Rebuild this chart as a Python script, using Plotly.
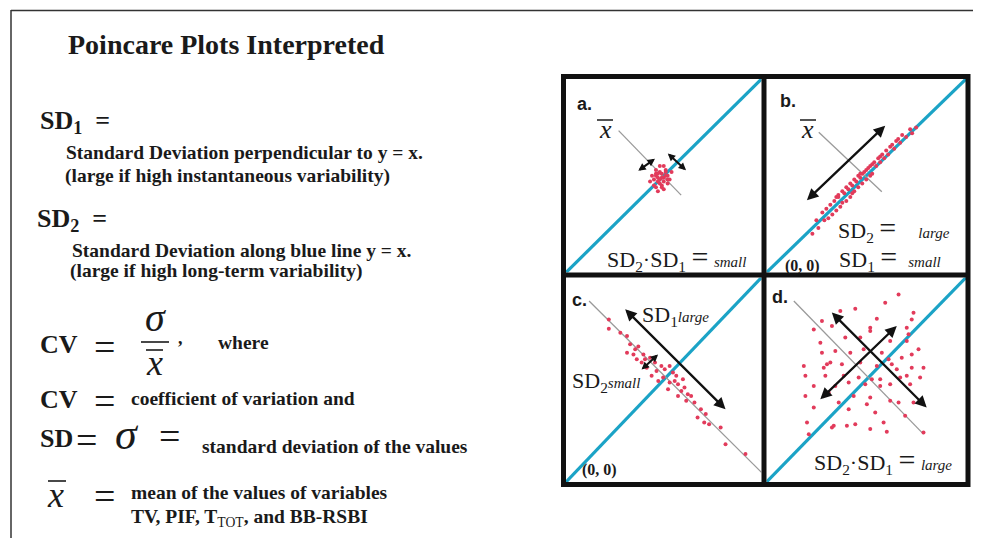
import plotly.graph_objects as go

W, H = 981, 538

# ---------------- data (panel units, 0..1, origin bottom-left) ----------------
identity_x = [0, 1]
identity_y = [0, 1]

# panel a: tight cluster around the mean
xa = [0.46, 0.48, 0.50, 0.47, 0.49, 0.51, 0.45, 0.48, 0.52, 0.46, 0.50, 0.47, 0.49, 0.44,
      0.53, 0.48, 0.51, 0.46, 0.50, 0.47, 0.49, 0.52, 0.45, 0.48, 0.50, 0.43, 0.47, 0.51,
      0.54, 0.49, 0.46, 0.52]
ya = [0.50, 0.52, 0.49, 0.47, 0.45, 0.53, 0.48, 0.55, 0.50, 0.44, 0.47, 0.51, 0.49, 0.50,
      0.48, 0.46, 0.52, 0.53, 0.43, 0.49, 0.51, 0.46, 0.45, 0.48, 0.55, 0.47, 0.42, 0.50,
      0.52, 0.44, 0.51, 0.48]

# panel b: elongated along y = x
xb = [0.23, 0.25, 0.26, 0.28, 0.29, 0.30, 0.31, 0.32, 0.33, 0.34, 0.35, 0.35, 0.36, 0.37,
      0.38, 0.38, 0.39, 0.40, 0.40, 0.41, 0.42, 0.42, 0.43, 0.44, 0.44, 0.45, 0.46, 0.46,
      0.47, 0.48, 0.48, 0.49, 0.50, 0.50, 0.51, 0.52, 0.53, 0.53, 0.54, 0.55, 0.56, 0.57,
      0.58, 0.59, 0.60, 0.61, 0.62, 0.64, 0.65, 0.67, 0.68, 0.70, 0.72, 0.75,
      0.36, 0.43, 0.47, 0.52, 0.57, 0.63, 0.66, 0.73]
yb = [0.20, 0.27, 0.23, 0.31, 0.27, 0.33, 0.28, 0.35, 0.30, 0.37, 0.32, 0.39, 0.39, 0.34,
      0.42, 0.36, 0.41, 0.44, 0.37, 0.43, 0.46, 0.39, 0.45, 0.48, 0.42, 0.47, 0.50, 0.44,
      0.49, 0.51, 0.46, 0.52, 0.53, 0.48, 0.54, 0.55, 0.56, 0.51, 0.57, 0.55, 0.59, 0.57,
      0.61, 0.59, 0.63, 0.61, 0.65, 0.64, 0.68, 0.67, 0.71, 0.70, 0.74, 0.75,
      0.40, 0.41, 0.51, 0.50, 0.60, 0.66, 0.69, 0.72]

# panel c: elongated perpendicular to y = x
xc = [0.219, 0.219, 0.278, 0.312, 0.328, 0.354, 0.370, 0.312, 0.345, 0.396, 0.362, 0.404,
      0.430, 0.455, 0.488, 0.413, 0.463, 0.505, 0.530, 0.547, 0.497, 0.556, 0.573, 0.530,
      0.606, 0.590, 0.623, 0.640, 0.573, 0.615, 0.657, 0.690, 0.673, 0.715, 0.732, 0.791,
      0.816, 0.918, 0.387, 0.438, 0.522, 0.564, 0.472, 0.598, 0.707]
yc = [0.795, 0.750, 0.730, 0.714, 0.673, 0.649, 0.662, 0.632, 0.624, 0.624, 0.600, 0.600,
      0.608, 0.584, 0.567, 0.559, 0.543, 0.551, 0.567, 0.535, 0.511, 0.494, 0.478, 0.486,
      0.462, 0.445, 0.429, 0.421, 0.421, 0.397, 0.389, 0.356, 0.315, 0.332, 0.283, 0.267,
      0.185, 0.137, 0.584, 0.519, 0.454, 0.519, 0.494, 0.502, 0.291]

# panel d: wide scattered cloud
xd = [0.662, 0.595, 0.445, 0.370, 0.278, 0.237, 0.328, 0.553, 0.737, 0.728, 0.520, 0.520,
      0.703, 0.712, 0.270, 0.395, 0.470, 0.620, 0.703, 0.762, 0.345, 0.420, 0.487, 0.578,
      0.612, 0.678, 0.728, 0.187, 0.303, 0.287, 0.320, 0.378, 0.470, 0.553, 0.628, 0.653,
      0.728, 0.787, 0.195, 0.295, 0.387, 0.462, 0.528, 0.570, 0.670, 0.703, 0.770, 0.237,
      0.345, 0.412, 0.495, 0.570, 0.620, 0.720, 0.195, 0.312, 0.437, 0.520, 0.620, 0.662,
      0.737, 0.237, 0.362, 0.412, 0.503, 0.545, 0.203, 0.328, 0.403, 0.445, 0.587, 0.695,
      0.212, 0.337, 0.520, 0.603, 0.787, 0.278]
yd = [0.917, 0.876, 0.847, 0.836, 0.787, 0.746, 0.763, 0.798, 0.828, 0.795, 0.754, 0.738,
      0.754, 0.722, 0.681, 0.706, 0.706, 0.689, 0.689, 0.649, 0.641, 0.632, 0.649, 0.632,
      0.600, 0.608, 0.624, 0.567, 0.576, 0.559, 0.584, 0.576, 0.584, 0.567, 0.576, 0.551,
      0.559, 0.559, 0.519, 0.519, 0.519, 0.511, 0.502, 0.502, 0.511, 0.519, 0.511, 0.470,
      0.470, 0.486, 0.478, 0.470, 0.478, 0.478, 0.421, 0.437, 0.421, 0.413, 0.397, 0.389,
      0.389, 0.364, 0.389, 0.356, 0.380, 0.340, 0.291, 0.267, 0.275, 0.283, 0.291, 0.324,
      0.234, 0.275, 0.259, 0.246, 0.242, 0.632]

# grey mean lines (perpendicular to y = x through the mean)
grey_a = ([0.269, 0.589], [0.733, 0.400])
grey_b = ([0.262, 0.578], [0.725, 0.417])
grey_c = ([0.118, 1.000], [0.885, 0.047])
grey_d = ([0.137, 0.787], [0.885, 0.234])

# double-headed arrows: (x0, y0, x1, y1)
arrows_a = [(0.362, 0.520, 0.455, 0.588), (0.513, 0.622, 0.614, 0.528)]
arrows_b = [(0.195, 0.366, 0.595, 0.759)]
arrows_c = [(0.295, 0.852, 0.816, 0.356), (0.379, 0.543, 0.471, 0.624)]
arrows_d = [(0.320, 0.836, 0.803, 0.364), (0.262, 0.397, 0.653, 0.763)]

# ---------------- layout helpers ----------------
# the page body adds an 8px margin, so compensate
OFF = 8

def px(x):
    return (x - OFF) / W

def py(y):
    return 1 - (y - OFF) / H

BLUE = "#1ba3c6"
RED = "#e23b5b"
GREY = "#9a9a9a"
INK = "#1a1a1a"
SERIF = "Liberation Serif"

# panel interiors in pixels: (x0, x1, ytop, ybottom)
panels = {
    "a": (566, 761.5, 79, 272.5),
    "b": (766.5, 966, 79, 272.5),
    "c": (566, 761.5, 277.5, 482),
    "d": (766.5, 966, 277.5, 482),
}
panel_data = {
    "a": (xa, ya, grey_a, arrows_a),
    "b": (xb, yb, grey_b, arrows_b),
    "c": (xc, yc, grey_c, arrows_c),
    "d": (xd, yd, grey_d, arrows_d),
}

fig = go.Figure()
annotations = []
layout_axes = {}

for i, key in enumerate(["a", "b", "c", "d"]):
    n = "" if i == 0 else str(i + 1)
    xr, yr = "x" + n, "y" + n
    x0, x1, yt, yb_ = panels[key]
    layout_axes["xaxis" + n] = dict(domain=[px(x0), px(x1)], range=[0, 1], visible=False,
                                    anchor=yr, fixedrange=True)
    layout_axes["yaxis" + n] = dict(domain=[py(yb_), py(yt)], range=[0, 1], visible=False,
                                    anchor=xr, fixedrange=True)
    sx, sy, grey, arrows = panel_data[key]
    fig.add_trace(go.Scatter(x=identity_x, y=identity_y, mode="lines", xaxis=xr, yaxis=yr,
                             line=dict(color=BLUE, width=3.2), hoverinfo="skip", showlegend=False,
                             cliponaxis=False))
    fig.add_trace(go.Scatter(x=grey[0], y=grey[1], mode="lines", xaxis=xr, yaxis=yr,
                             line=dict(color=GREY, width=1.3), hoverinfo="skip", showlegend=False))
    fig.add_trace(go.Scatter(x=sx, y=sy, mode="markers", xaxis=xr, yaxis=yr,
                             marker=dict(color=RED, size=4), showlegend=False))
    for (ax0, ay0, ax1, ay1) in arrows:
        length = ((ax1 - ax0) ** 2 + (ay1 - ay0) ** 2) ** 0.5
        short = length < 0.2
        annotations.append(dict(x=ax1, y=ay1, ax=ax0, ay=ay0, xref=xr, yref=yr,
                                axref=xr, ayref=yr, showarrow=True, arrowhead=2,
                                startarrowhead=2, arrowside="end+start",
                                arrowsize=0.75 if short else 1.0,
                                startarrowsize=0.75 if short else 1.0,
                                arrowwidth=2.0 if short else 2.3, arrowcolor="#111",
                                text="", standoff=0, startstandoff=0))

def txt(text, x, y, size, xanchor="left", family=SERIF, color=INK):
    annotations.append(dict(text=text, x=px(x), y=py(y), xref="paper", yref="paper",
                            xanchor=xanchor, yanchor="middle", showarrow=False,
                            font=dict(family=family, size=size, color=color), borderpad=0))

# ---------------- left-hand text ----------------
D = 19.5  # description font size
txt("<b>Poincare Plots Interpreted</b>", 67, 44, 28)
txt("<b>SD<sub>1</sub>  =</b>", 39, 122, 26)
txt("<b>Standard Deviation perpendicular to y = x.</b>", 65, 152, D)
txt("<b>(large if high instantaneous variability)</b>", 64, 176, D)
txt("<b>SD<sub>2</sub>  =</b>", 36, 220, 26)
txt("<b>Standard Deviation along blue line y = x.</b>", 71, 250, D)
txt("<b>(large if high long-term variability)</b>", 69, 271, D)

txt("<b>CV</b>", 39, 344, 26)
txt("=", 93, 347, 38)
txt("<i>σ</i>", 155, 317, 40, xanchor="center")
txt("<i>x</i>", 154, 363, 36, xanchor="center")
txt("<b>,</b>", 177, 338, 18)
txt("<b>where</b>", 217, 342, D)

txt("<b>CV</b>", 39, 399, 26)
txt("=", 93, 401, 38)
txt("<b>coefficient of variation and</b>", 130, 398, D)

txt("<b>SD</b>", 39, 438, 26)
txt("=", 75, 440, 38)
txt("<i>σ</i>", 114, 434, 44)
txt("=", 158, 436, 38)
txt("<b>standard deviation of the values</b>", 201, 446, D)

txt("<i>x</i>", 46, 495, 36)
txt("=", 93, 496, 38)
txt("<b>mean of the values of variables</b>", 130, 492, D)
txt("<b>TV, PIF, T</b><sub>TOT</sub><b>, and BB-RSBI</b>", 130, 518, D)

# ---------------- panel text ----------------
SANS = "Liberation Sans"
P = 22
EQ = "<span style='font-size:30px'>=</span>"
def small(word):
    return "<i><span style='font-size:15px'>" + word + "</span></i>"

txt("<b>a.</b>", 576, 104, 18, family=SANS)
txt("<i>x</i>", 605, 130, 26, xanchor="center")
txt("SD<sub>2</sub>·SD<sub>1</sub> " + EQ + " " + small("small"), 676, 257, P, xanchor="center")

txt("<b>b.</b>", 779, 101, 18, family=SANS)
txt("<i>x</i>", 807, 130, 26, xanchor="center")
txt("SD<sub>2</sub> " + EQ + "    " + small("large"), 837, 229, P)
txt("SD<sub>1</sub> " + EQ + "  " + small("small"), 838, 257, P)
txt("<b>(0, 0)</b>", 784, 266, 16)

txt("<b>c.</b>", 571, 300, 18, family=SANS)
txt("SD<sub>1</sub>" + small("large"), 641, 316, P)
txt("SD<sub>2</sub>" + small("small"), 571, 382, P)
txt("<b>(0, 0)</b>", 581, 470, 16)

txt("<b>d.</b>", 771, 297, 18, family=SANS)
txt("SD<sub>2</sub>·SD<sub>1</sub> " + EQ + " " + small("large"), 883, 460, P, xanchor="center")

# ---------------- shapes ----------------
def pline(x0, y0, x1, y1, width, color="#111"):
    return dict(type="line", xref="paper", yref="paper", x0=px(x0), y0=py(y0),
                x1=px(x1), y1=py(y1), line=dict(color=color, width=width))

shapes = [
    # thin page frame (top + left)
    pline(11, 10.5, 990, 10.5, 1.5, "#333"),
    pline(11, 10, 11, 546, 1.5, "#333"),
    # panel grid
    dict(type="rect", xref="paper", yref="paper", x0=px(563.5), x1=px(968),
         y0=py(484.5), y1=py(76.5), line=dict(color="#111", width=5)),
    pline(764, 76.5, 764, 484.5, 5),
    pline(563.5, 275, 968, 275, 5),
    # fraction bar and overbars
    pline(141, 342, 169, 342, 1.6, INK),
    pline(146, 350, 163, 350, 1.6, INK),
    pline(48, 481, 66, 481, 1.6, INK),
    pline(597, 120, 613, 120, 1.5, INK),
    pline(800, 120, 816, 120, 1.5, INK),
]

fig.update_layout(
    width=W, height=H, margin=dict(l=0, r=0, t=0, b=0),
    paper_bgcolor="white", plot_bgcolor="white",
    showlegend=False, annotations=annotations, shapes=shapes,
    **layout_axes,
)

fig.write_html("out.html")
